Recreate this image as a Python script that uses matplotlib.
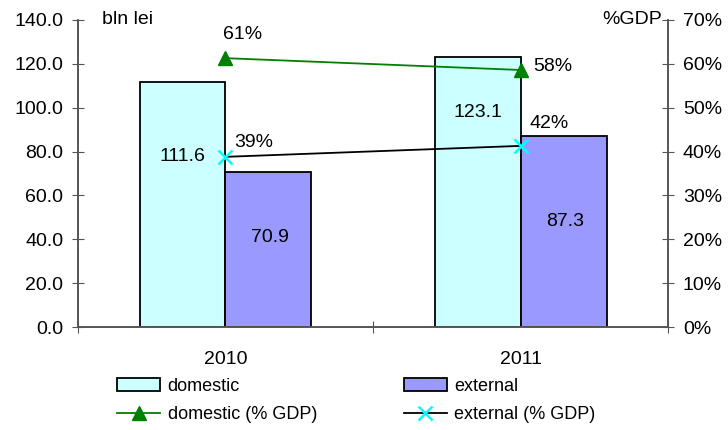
import matplotlib
matplotlib.use("Agg")
import matplotlib.pyplot as plt
from matplotlib.ticker import FuncFormatter, MultipleLocator

plt.rcParams['font.family'] = ['Liberation Sans', 'DejaVu Sans']

years = ['2010', '2011']
domestic = [111.6, 123.1]
external = [70.9, 87.3]
domestic_pct = [61.3, 58.6]
external_pct = [38.8, 41.3]
domestic_pct_lbl = [61, 58]
external_pct_lbl = [39, 42]

fig = plt.figure(figsize=(7.28, 4.30), dpi=100)
ax = fig.add_axes([0.107, 0.2395, 0.811, 0.714])
ax2 = ax.twinx()

x = [0, 1]
w = 0.291
fs = 14
b1 = ax.bar([i - w / 2 for i in x], domestic, width=w, color='#CCFFFF', edgecolor='black', linewidth=1.3, label='domestic', zorder=2)
b2 = ax.bar([i + w / 2 for i in x], external, width=w, color='#9999FF', edgecolor='black', linewidth=1.3, label='external', zorder=2)

ax.set_xlim(-0.5, 1.5)
ax.set_ylim(0, 140)
ax.yaxis.set_major_locator(MultipleLocator(20))
ax.yaxis.set_major_formatter(FuncFormatter(lambda v, p: f"{v:.1f}"))
ax.set_xticks([-0.5, 0.5, 1.5])
ax.set_xticklabels([])
ax.set_xticks(x, minor=True)
ax.set_xticklabels(years, minor=True)
ax.tick_params(axis='x', which='minor', length=0, pad=17, labelsize=fs)
ax.tick_params(axis='x', which='major', direction='inout', length=9, color='#555555')
ax.tick_params(axis='y', direction='inout', length=9, labelsize=fs, color='#555555', pad=6)

l1, = ax2.plot(x, domestic_pct, color='#008000', lw=1.3, marker='^', markersize=10, label='domestic (% GDP)', zorder=5)
l2, = ax2.plot(x, external_pct, color='black', lw=1.3, marker='x', markersize=10, markeredgecolor='#00FFFF', markeredgewidth=1.8, label='external (% GDP)', zorder=5)
ax2.set_ylim(0, 70)
ax2.yaxis.set_major_locator(MultipleLocator(10))
ax2.yaxis.set_major_formatter(FuncFormatter(lambda v, p: f"{v:.0f}%"))
ax2.tick_params(axis='y', direction='inout', length=9, labelsize=fs, color='#555555', pad=6)

for a in (ax, ax2):
    a.spines['top'].set_visible(False)
    for s in ('left', 'right', 'bottom'):
        a.spines[s].set_color('#555555')
        a.spines[s].set_linewidth(1.2)

# bar value labels
bar_lbl_y = [[77.6, 98.0], [41.0, 48.0]]
for i in x:
    ax.text(i - w / 2, bar_lbl_y[0][i], f"{domestic[i]:.1f}", ha='center', va='center', fontsize=fs, zorder=6)
    ax.text(i + w / 2 + 0.005, bar_lbl_y[1][i], f"{external[i]:.1f}", ha='center', va='center', fontsize=fs, zorder=6)

# pct labels
ax2.annotate(f"{domestic_pct_lbl[0]}%", (0, domestic_pct[0]), xytext=(17, 24), textcoords='offset pixels', ha='center', va='center', fontsize=fs)
ax2.annotate(f"{domestic_pct_lbl[1]}%", (1, domestic_pct[1]), xytext=(32, 3), textcoords='offset pixels', ha='center', va='center', fontsize=fs)
ax2.annotate(f"{external_pct_lbl[0]}%", (0, external_pct[0]), xytext=(28, 14), textcoords='offset pixels', ha='center', va='center', fontsize=fs)
ax2.annotate(f"{external_pct_lbl[1]}%", (1, external_pct[1]), xytext=(28, 22), textcoords='offset pixels', ha='center', va='center', fontsize=fs)

fig.text(102 / 728, 1 - 20 / 430, 'bln lei', ha='left', va='center', fontsize=fs)
fig.text(662 / 728, 1 - 20 / 430, '%GDP', ha='right', va='center', fontsize=fs)

lfs = 13
fig.legend([b1, l1, b2, l2], ['domestic', 'domestic (% GDP)', 'external', 'external (% GDP)'],
           ncol=2, loc='upper left', bbox_to_anchor=(117 / 728, 1 - 378 / 430), frameon=False, fontsize=lfs,
           handlelength=2.4, handletextpad=0.4, columnspacing=4.8, labelspacing=0.6,
           borderpad=0, borderaxespad=0)

fig.savefig('out.png', dpi=100)
